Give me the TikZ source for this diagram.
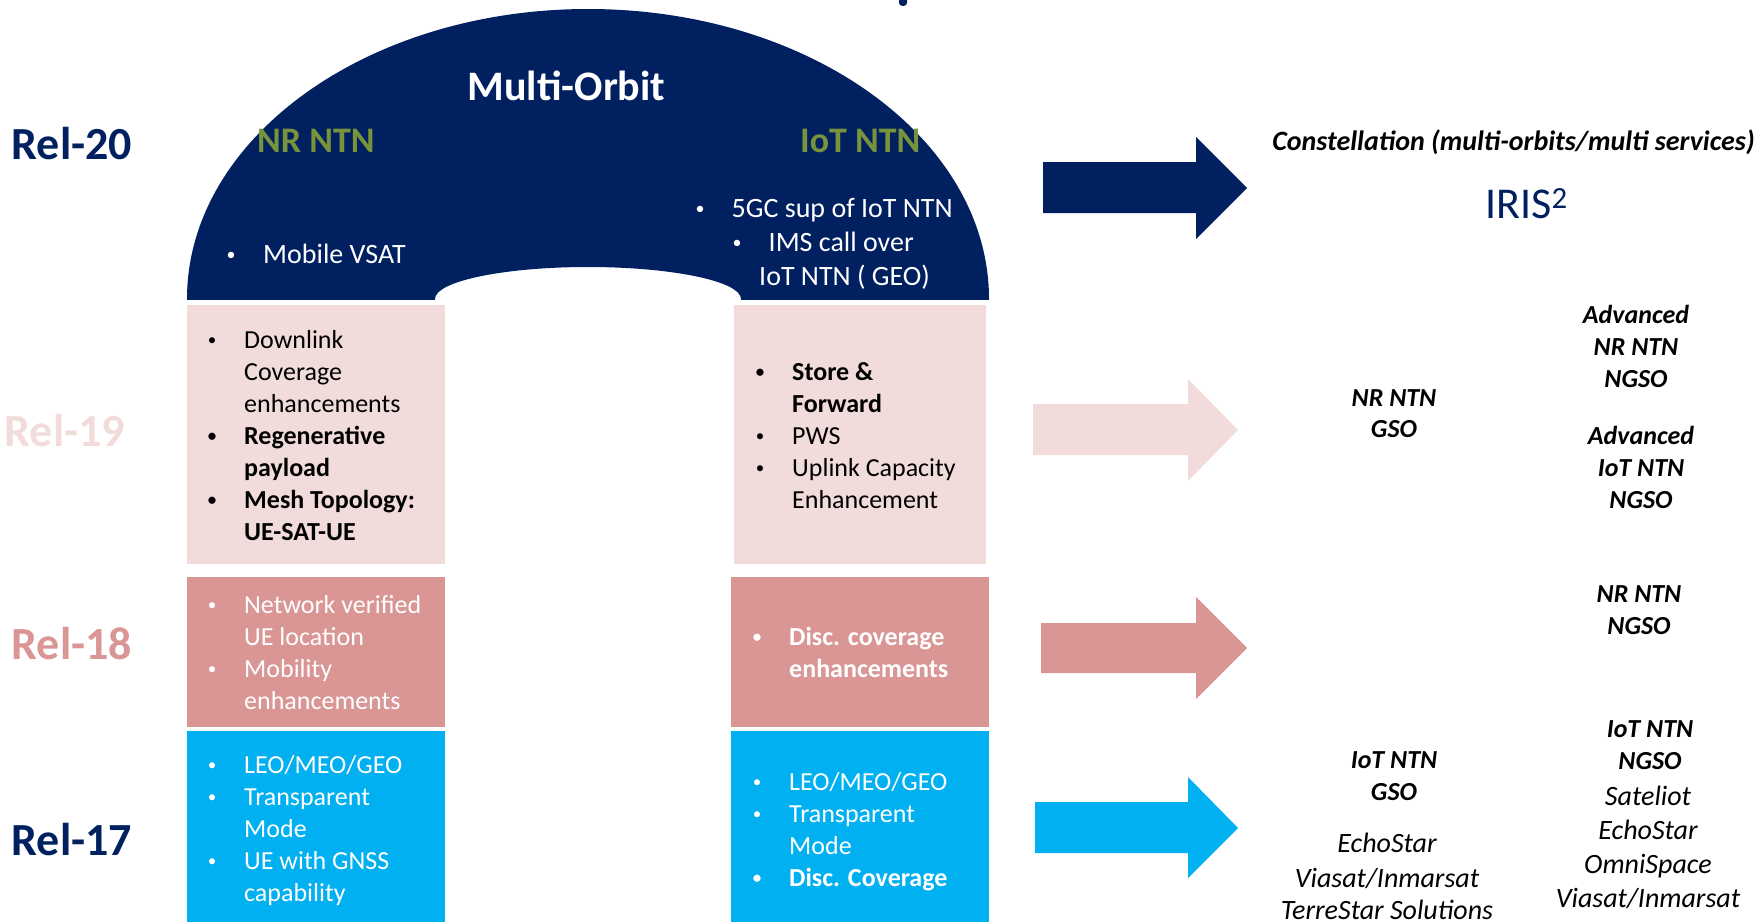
\documentclass[tikz,border=0pt]{standalone}
\usepackage{fontspec}
\setmainfont{Carlito}
\newcommand\fsz[2]{\fontsize{#1}{#2}\selectfont}
\definecolor{navy}{HTML}{002060}
\definecolor{olive}{HTML}{77933C}
\definecolor{lpink}{HTML}{F2DCDB}
\definecolor{rose}{HTML}{D99694}
\definecolor{cyanb}{HTML}{00B0F0}
\begin{document}
\begin{tikzpicture}[x=1pt,y=-1pt,
  lbl/.style={anchor=base west,inner sep=0pt,font=\fsz{46}{46}\bfseries},
  bx/.style={anchor=base west,inner sep=0pt,font=\fsz{26}{32}},
  bxb/.style={anchor=base west,inner sep=0pt,font=\fsz{26}{32}\bfseries},
  bul/.style={anchor=base,inner sep=0pt,yshift=3pt,font=\fsz{17}{20}},
  top/.style={anchor=base west,inner sep=0pt,font=\fsz{28}{34},text=white},
  topbul/.style={anchor=base,inner sep=0pt,yshift=3pt,font=\fsz{18}{20},text=white},
  rbi/.style={anchor=base,inner sep=0pt,font=\fsz{26}{32}\bfseries\itshape},
  ri/.style={anchor=base,inner sep=0pt,font=\fsz{28}{34}\itshape},
]
\useasboundingbox (0,0) rectangle (1758,922);

% top fragment
\fill[navy] (899,0) -- (907,0) -- (907,3) .. controls (907,7) and (899,7) .. (899,3) -- cycle;

% arch
\begin{scope}
\clip (180,0) rectangle (1000,299);
\fill[navy,even odd rule] (588,299) ellipse [x radius=401,y radius=290]
  (588,299) ellipse [x radius=153,y radius=32];
\end{scope}

% boxes
\fill[lpink] (187,305) rectangle (445,564);
\fill[lpink] (734,305) rectangle (986,564);
\fill[rose] (187,577) rectangle (445,727);
\fill[rose] (731,577) rectangle (989,727);
\fill[cyanb] (187,731) rectangle (445,922);
\fill[cyanb] (731,731) rectangle (989,922);

% arrows
\fill[navy] (1043,162) -- (1196,162) -- (1196,137) -- (1247,188) -- (1196,239) -- (1196,213) -- (1043,213) -- cycle;
\fill[lpink] (1033,404) -- (1188,404) -- (1188,379) -- (1238,430) -- (1188,481) -- (1188,455) -- (1033,455) -- cycle;
\fill[rose] (1041,623) -- (1196,623) -- (1196,597) -- (1247,648) -- (1196,699) -- (1196,673) -- (1041,673) -- cycle;
\fill[cyanb] (1035,802) -- (1188,802) -- (1188,777) -- (1238,828) -- (1188,878) -- (1188,853) -- (1035,853) -- cycle;

% release labels
\node[lbl,text=navy] (r20) at (11.5,159) {Rel-20};
\node[lbl,text=lpink] (r19) at (4.5,446) {Rel-19};
\node[lbl,text=rose] (r18) at (11.5,659) {Rel-18};
\node[lbl,text=navy] (r17) at (11.5,855) {Rel-17};

% arch texts
\node[anchor=base,inner sep=0pt,font=\fsz{42}{42}\bfseries,text=white] (mo) at (566.5,100) {Multi-Orbit};
\node[anchor=base west,inner sep=0pt,font=\fsz{36}{36}\bfseries,text=olive] (nrntn) at (257,152) {NR NTN};
\node[anchor=base west,inner sep=0pt,font=\fsz{36}{36}\bfseries,text=olive] (iotntn) at (800,152) {IoT NTN};
\node[topbul] (tb1) at (231,263) {•};
\node[top] (t1) at (263,263) {Mobile VSAT};
\node[topbul] (tb2) at (700,217) {•};
\node[top] (t2) at (731.5,217) {5GC sup of IoT NTN};
\node[topbul] (tb3) at (737,251) {•};
\node[top] (t3) at (768.5,251) {IMS call over};
\node[top] (t4) at (759,285) {IoT NTN ( GEO)};

% Rel-19 left
\node[bul] (a1) at (212,348) {•};
\node[bx] (a1t) at (244,348) {Downlink};
\node[bx] (a2t) at (244,380) {Coverage};
\node[bx] (a3t) at (244,412) {enhancements};
\node[bul] (a4) at (212,444) {\bfseries •};
\node[bxb] (a4t) at (244,444) {Regenerative};
\node[bxb] (a5t) at (244,476) {payload};
\node[bul] (a6) at (212,508) {\bfseries •};
\node[bxb] (a6t) at (244,508) {Mesh Topology:};
\node[bxb] (a7t) at (244,540) {UE-SAT-UE};

% Rel-19 right
\node[bul] (b1) at (760,380) {\bfseries •};
\node[bxb] (b1t) at (792,380) {Store \&};
\node[bxb] (b2t) at (792,412) {Forward};
\node[bul] (b3) at (760,444) {•};
\node[bx] (b3t) at (792,444) {PWS};
\node[bul] (b4) at (760,476) {•};
\node[bx] (b4t) at (792,476) {Uplink Capacity};
\node[bx] (b5t) at (792,508) {Enhancement};

% Rel-18 left
\begin{scope}[every node/.append style={text=white}]
\node[bul] (c1) at (212,613) {•};
\node[bx] (c1t) at (244,613) {Network verified};
\node[bx] (c2t) at (244,645) {UE location};
\node[bul] (c3) at (212,677) {•};
\node[bx] (c3t) at (244,677) {Mobility};
\node[bx] (c4t) at (244,709) {enhancements};
% Rel-18 right
\node[bul] (d1) at (757,645) {\bfseries •};
\node[bxb] (d1t) at (789,645) {Disc. coverage};
\node[bxb] (d2t) at (789,677) {enhancements};
% Rel-17 left
\node[bul] (e1) at (212,773) {•};
\node[bx] (e1t) at (244,773) {LEO/MEO/GEO};
\node[bul] (e2) at (212,805) {•};
\node[bx] (e2t) at (244,805) {Transparent};
\node[bx] (e3t) at (244,837) {Mode};
\node[bul] (e4) at (212,869) {•};
\node[bx] (e4t) at (244,869) {UE with GNSS};
\node[bx] (e5t) at (244,901) {capability};
% Rel-17 right
\node[bul] (f1) at (757,790) {•};
\node[bx] (f1t) at (789,790) {LEO/MEO/GEO};
\node[bul] (f2) at (757,822) {•};
\node[bx] (f2t) at (789,822) {Transparent};
\node[bx] (f3t) at (789,854) {Mode};
\node[bul] (f4) at (757,886) {\bfseries •};
\node[bxb] (f4t) at (789,886) {Disc. Coverage};
\end{scope}

% right side
\node[anchor=base,inner sep=0pt,font=\fsz{28}{34}\bfseries\itshape] (const) at (1513.5,150) {Constellation (multi-orbits/multi services)};
\node[anchor=base west,inner sep=0pt,font=\fsz{44}{44},text=navy] (iris) at (1485,218) {IRIS\textsuperscript{2}};

\node[rbi] (g1) at (1394,406) {NR NTN};
\node[rbi] (g2) at (1394,437) {GSO};

\node[rbi] (h1) at (1636,323) {Advanced};
\node[rbi] (h2) at (1636,355) {NR NTN};
\node[rbi] (h3) at (1636,387) {NGSO};

\node[rbi] (k1) at (1641,444) {Advanced};
\node[rbi] (k2) at (1641,476) {IoT NTN};
\node[rbi] (k3) at (1641,508) {NGSO};

\node[rbi] (m1) at (1639,602) {NR NTN};
\node[rbi] (m2) at (1639,634) {NGSO};

\node[rbi] (n1) at (1650,737) {IoT NTN};
\node[rbi] (n2) at (1650,769) {NGSO};
\node[ri] (n3) at (1648,805) {Sateliot};
\node[ri] (n4) at (1648,839) {EchoStar};
\node[ri] (n5) at (1648,873) {OmniSpace};
\node[ri] (n6) at (1648,907) {Viasat/Inmarsat};

\node[rbi] (p1) at (1394,768) {IoT NTN};
\node[rbi] (p2) at (1394,800) {GSO};
\node[ri] (p3) at (1387,852) {EchoStar};
\node[ri] (p4) at (1387,887) {Viasat/Inmarsat};
\node[ri] (p5) at (1387,919) {TerreStar Solutions};
\end{tikzpicture}
\end{document}
